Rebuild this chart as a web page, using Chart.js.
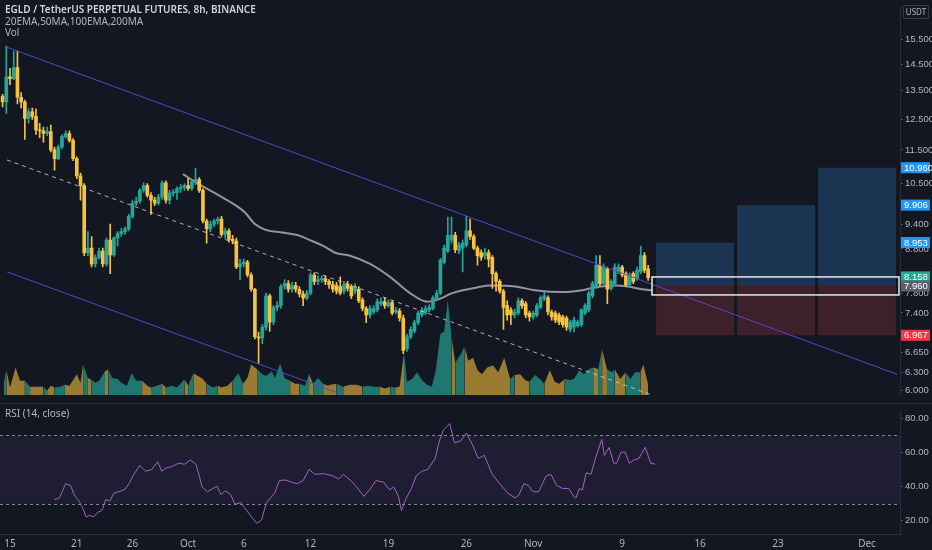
<!DOCTYPE html>
<html><head><meta charset="utf-8">
<script src="https://cdn.jsdelivr.net/npm/chart.js@4.4.0/dist/chart.umd.min.js"></script>
<style>
html,body{margin:0;padding:0;background:#131722;width:932px;height:550px;overflow:hidden;font-family:"Noto Sans",sans-serif;}
#mainBox{position:absolute;left:0;top:0;width:932px;height:403px;}
#rsiBox{position:absolute;left:0;top:403px;width:932px;height:147px;border-top:1px solid #2a2e39;box-sizing:border-box;}
.t{position:absolute;left:5px;font-size:10px;line-height:12px;color:#b2b5be;white-space:nowrap;}
#usdt{position:absolute;left:903px;top:5px;width:24px;height:12px;border:1px solid #363a45;border-radius:2px;font-size:8px;line-height:12px;text-align:center;color:#b2b5be;}
</style></head><body>
<div id="mainBox"><canvas id="main"></canvas></div>
<div id="rsiBox"><canvas id="rsi"></canvas></div>
<div class="t" style="top:3px;color:#d1d4dc;font-weight:600">EGLD / TetherUS PERPETUAL FUTURES, 8h, BINANCE</div>
<div class="t" style="top:15px">20EMA,50MA,100EMA,200MA</div>
<div class="t" style="top:26px">Vol</div>
<div class="t" style="top:407px">RSI (14, close)</div>
<div id="usdt">USDT</div>
<script>
// ---------- time axis (days since 15 Sep) ----------
const candleStartDay = -2/3;   // first 8h candle: 14 Sep 08:00
const candleStepDays = 1/3;    // 8h candles
const xMinDay = -0.9, xMaxDay = 79.96;
const xTickDays   = [0,6,11,16,21,27,34,41,47,55,62,69,77];
const xTickLabels = ["15","21","26","Oct","6","12","19","26","Nov","9","16","23","Dec"];

// ---------- price candles ----------
const candleOpen = [13.29,13.09,14.01,13.94,14.37,13.26,13.09,12.52,12.75,12.59,
12.14,12.11,12.02,12.08,11.50,11.23,11.59,11.92,12.02,11.80,
11.23,10.72,10.44,8.71,8.82,8.45,8.60,8.75,8.45,9.01,
8.66,9.06,9.17,9.22,9.29,9.61,9.96,10.01,10.31,10.44,
10.17,10.04,9.96,10.12,10.52,10.04,10.23,10.25,10.36,10.39,
10.44,10.36,10.55,10.61,10.31,9.49,9.29,9.41,9.49,9.54,
9.15,9.24,9.03,8.99,8.38,8.45,8.49,8.20,7.89,6.94,
6.92,7.12,7.75,7.22,7.51,7.55,7.95,8.01,7.89,7.97,
7.89,7.79,7.71,7.81,8.20,8.06,8.10,8.12,8.06,7.99,
7.97,7.95,7.85,7.99,7.95,7.85,7.89,7.67,7.49,7.36,
7.42,7.46,7.59,7.63,7.55,7.61,7.42,7.44,7.30,6.72,
6.94,7.04,7.21,7.36,7.40,7.46,7.49,7.71,7.81,8.49,
8.75,9.01,9.13,8.75,8.82,8.89,9.24,9.10,8.82,8.71,
8.64,8.71,8.60,8.23,8.06,7.85,7.55,7.46,7.36,7.40,
7.65,7.59,7.40,7.32,7.36,7.51,7.69,7.71,7.42,7.40,
7.36,7.32,7.30,7.08,7.12,7.15,7.17,7.40,7.46,7.75,
7.95,8.42,8.01,8.34,7.91,8.01,8.27,8.38,8.23,7.99,
8.23,8.12,8.27,8.64,8.34];
const candleClose = [13.09,14.01,13.94,14.37,13.26,13.09,12.52,12.75,12.59,12.14,
12.11,12.02,12.08,11.50,11.23,11.59,11.92,12.02,11.80,11.23,
10.72,10.44,8.71,8.82,8.45,8.60,8.75,8.45,9.01,8.66,
9.06,9.17,9.22,9.29,9.61,9.96,10.01,10.31,10.44,10.17,
10.04,9.96,10.12,10.52,10.04,10.23,10.25,10.36,10.39,10.44,
10.36,10.55,10.61,10.31,9.49,9.29,9.41,9.49,9.54,9.15,
9.24,9.03,8.99,8.38,8.45,8.49,8.20,7.89,6.94,6.92,
7.12,7.75,7.22,7.51,7.55,7.95,8.01,7.89,7.97,7.89,
7.79,7.71,7.81,8.20,8.06,8.10,8.12,8.06,7.99,7.89,
7.85,7.81,7.99,7.91,7.75,7.95,7.65,7.49,7.36,7.49,
7.49,7.63,7.63,7.55,7.61,7.40,7.46,7.30,6.69,6.94,
7.08,7.21,7.40,7.46,7.49,7.51,7.71,7.81,8.53,8.82,
9.13,9.13,8.78,8.89,8.94,9.24,9.10,8.82,8.64,8.60,
8.71,8.56,8.23,8.06,7.85,7.51,7.36,7.36,7.42,7.65,
7.55,7.36,7.32,7.40,7.55,7.71,7.75,7.42,7.32,7.26,
7.22,7.17,7.12,7.22,7.26,7.22,7.46,7.55,7.81,8.01,
8.42,8.01,8.38,7.89,8.06,8.38,8.38,8.20,7.99,8.20,
8.06,8.31,8.64,8.31,8.14];
const candleHigh = [13.36,15.22,14.34,15.02,15.02,13.43,13.16,12.85,12.88,12.85,
12.36,12.23,12.23,12.30,11.59,11.65,11.98,12.11,12.11,11.86,
11.29,10.80,10.50,9.22,9.10,8.66,8.82,8.82,9.06,9.41,
9.10,9.22,9.31,9.34,9.66,10.04,10.12,10.36,10.52,10.50,
10.25,10.12,10.20,10.58,10.58,10.31,10.33,10.41,10.47,10.50,
10.64,10.61,10.94,10.67,10.36,9.54,9.49,9.54,9.59,9.61,
9.31,9.29,9.13,9.06,8.56,8.56,8.53,8.25,7.91,7.03,
7.17,7.81,7.79,7.55,7.63,7.99,8.10,8.08,8.04,8.04,
7.95,7.85,7.87,8.25,8.25,8.18,8.18,8.18,8.10,8.06,
8.04,8.16,8.06,8.06,7.99,8.01,7.95,7.71,7.53,7.55,
7.55,7.69,7.71,7.71,7.67,7.65,7.51,7.49,7.36,6.99,
7.13,7.26,7.44,7.51,7.55,7.57,7.75,7.87,8.58,8.89,
9.59,9.59,9.20,8.96,9.01,9.61,9.54,9.15,8.87,8.78,
8.82,8.78,8.64,8.27,8.10,7.89,7.65,7.51,7.48,7.71,
7.69,7.63,7.44,7.44,7.59,7.75,7.83,7.75,7.46,7.44,
7.40,7.36,7.34,7.26,7.32,7.26,7.49,7.59,7.85,8.06,
8.64,8.64,8.45,8.38,8.10,8.45,8.45,8.42,8.27,8.25,
8.27,8.38,8.87,8.71,8.42];
const candleLow = [12.92,12.69,13.72,13.90,13.02,12.88,11.83,12.36,12.49,11.99,
11.89,11.74,11.95,11.44,10.89,11.20,11.53,11.86,11.74,11.17,
10.64,10.04,8.64,8.64,8.38,8.38,8.56,8.38,8.40,8.23,
8.62,8.87,9.10,9.15,9.24,9.56,9.89,9.96,10.25,10.12,
9.66,9.89,9.91,10.06,9.96,9.94,10.15,10.06,10.25,10.31,
10.31,10.31,10.47,10.25,9.44,8.94,9.22,9.34,9.41,9.10,
9.06,8.96,8.92,8.34,8.10,8.38,8.16,7.85,6.90,6.46,
6.81,7.06,7.04,7.17,7.44,7.49,7.89,7.83,7.83,7.83,
7.73,7.55,7.67,7.77,7.99,7.99,8.04,7.99,7.91,7.83,
7.79,7.77,7.79,7.85,7.69,7.79,7.61,7.44,7.21,7.30,
7.38,7.42,7.55,7.49,7.51,7.36,7.38,7.24,6.63,6.67,
6.90,7.01,7.17,7.32,7.36,7.42,7.46,7.67,7.77,8.45,
8.71,8.94,8.71,8.69,8.27,8.85,9.03,8.78,8.42,8.53,
8.56,8.38,7.91,7.85,7.81,7.08,7.26,7.17,7.30,7.36,
7.49,7.30,7.24,7.28,7.32,7.48,7.65,7.36,7.26,7.21,
7.17,7.12,7.06,7.03,7.03,7.12,7.13,7.36,7.42,7.71,
7.91,7.95,7.97,7.59,7.87,7.97,8.23,8.16,7.95,7.95,
8.01,8.08,8.23,8.25,8.08];

// ---------- volume (read at candle positions, 1-based index) ----------
const volIdx = [1.3,2,3,4.5,5.7,7,8.4,9.5,11,12,13,14,15,16.5,17.8,19,21,22,22.7,24,
25,26,27,28.6,29.5,30.5,32,33,34.5,35.8,37,38.6,40,41,42.6,44,45,46.6,48,49,
50,51,52.4,53.7,55,56,57.7,59,60,61.6,63,64.5,65.8,67,68,69.6,71,72,73.6,74.4,
75.8,77,78.5,79.8,81,82.5,83.6,84.7,86,87.4,88.7,
89.3,91,92.8,94.6,96.5,98,99.5,101,102.7,104,105.5,106.8,108,109.2,110,111.4,112.7,114,115.4,116.7,
117.8,119,120,121,122,123,124.4,125.5,126.5,127.8,129,130.2,131.6,133.2,134.6,136.2,137.8,139,140.5,141.8,
143,144.5,145.8,147,148.5,149.8,151,152.5,153.8,155,156.4,157.7,159,160.4,161.5,162.6,163.9,165.2,166,167.5,
168.9,170.2,171.5,172.9,173.7,175];
const volVal = [12,27,8,29,15,15,9,9,9,9,5,10,8,9,11,10,22,13,32,18,
16,13,15,25,27,18,17,13,10,23,15,15,10,8,10,12,8,10,8,12,
17,10,23,20,17,12,8,10,8,10,15,23,12,18,32,27,22,20,25,18,
33,18,15,12,12,10,22,12,18,12,10,
11,12,9,11,11,9,10,9,9,7,9,8,9,44,14,17,24,16,11,9,
27,64,66,99,61,34,42,51,36,39,26,22,29,31,24,39,17,21,22,16,
14,21,17,12,26,14,12,17,16,17,26,22,27,29,27,48,27,24,27,17,
24,17,24,24,32,11];

// ---------- moving average (grey) ----------
const maDays = [15.54,16.89,18.42,19.95,21.11,22.01,22.91,24.44,25.88,27.13,28.30,29.20,30.55,32.35,34.14,35.94,37.47,38.63,39.53,40.70,41.96,43.13,45.37,47.17,49.60,51.39,52.56,54.36,55.53,56.78,57.68];
const maVals = [10.77,10.50,10.23,9.96,9.71,9.41,9.27,9.20,9.13,8.99,8.85,8.71,8.64,8.45,8.16,7.81,7.63,7.69,7.79,7.87,7.93,7.97,7.95,7.87,7.83,7.87,7.93,7.97,7.95,7.89,7.87];

// ---------- channel / trend lines (day, price) ----------
const upperLine = [[-0.27,15.18],[79.7,6.27]];
const lowerLine = [[-0.27,8.27],[30.1,5.92]];
const midLine   = [[-0.27,11.19],[57.5,5.94]];

// ---------- long position tool ----------
const targetPrices = [8.953, 9.906, 10.960];
const targetDays = [[58.04,65.05],[65.32,72.33],[72.60,79.60]];
const entryPrice = 7.960, stopPrice = 6.967;
const entryBoxTop = 8.158, entryBoxBottom = 7.77, entryBoxDays = [57.68,79.87];
const priceTags = [10.960, 9.906, 8.953, 8.158, 7.960, 6.967];
const priceTagColors = ["#2196f3","#2196f3","#2196f3","#22ab94","#5d606b","#f23645"];

// ---------- price axis ----------
const priceTicks = [15.5,14.5,13.5,12.5,11.5,10.5,9.4,8.8,7.8,7.4,6.65,6.3,6.0];
const priceMin = 5.924, priceMax = 16.89;

// ---------- RSI ----------
const rsiIdx = [15,16.3,18,19.3,20.3,21.6,22.7,23.5,24.5,25.5,26.7,27.8,28.8,29.9,31,32.3,34,35.3,36.4,38,
39.6,41.2,42.8,43.9,45.2,46.8,48.4,50,51.6,53.2,54.8,56.2,57.7,58.8,59.9,61,62.5,63.6,65.2,66.8,
68.4,69.5,70.8,72.1,73.2,74.3,75.6,77.2,78.8,80.4,82,83.6,85.2,87.6,90,91.6,92.8,94.9,96.4,98.4,
100,101.6,103.7,105.3,106.4,107.7,108.5,109.6,111.2,112.5,114,115.6,117.6,118.7,119.8,121.5,122.8,124.4,126,127.6,
129.2,130.8,133,135,137.2,139.1,140.2,141.5,142.7,143.9,145.5,147.5,148.8,150.3,151.9,153.6,154.9,155.5,156.5,157.3,
158.3,159.6,160.9,162.5,163.2,164.5,165.7,166.5,167.7,168.8,169.9,171.2,172.5,174.2,175.7,176.9];
const rsiVal = [32.4,33.3,41.7,40.7,35.2,31.5,26.9,22.2,23.1,22.2,25,26,32.4,31.5,36.1,37,38.3,42.6,47.2,52.4,
49,50,54.6,49,51,51.9,53.7,53.1,55.6,52.8,39.8,37,38.9,40.2,35.2,37.6,35.2,29.6,30.6,25.9,
21.3,18.5,20.4,30.6,33.3,36.1,43.5,43.9,42.6,41.7,43.5,50,47.2,47.6,46.3,44.4,47.2,43.5,39.8,34.3,
38.3,43.5,42.6,38,39.8,34.3,25.9,32.4,38.9,46.3,49,50,56.5,66.7,73.1,76.9,65.7,66.7,71.3,64.8,
56.5,58.3,47.2,41.7,36.1,33.3,35.2,41.7,40.7,37,37,46.3,47.2,40.7,38.9,38.9,34.3,33.3,38.9,38,
48.1,47.2,57.4,67.6,58.3,63,53.7,53.7,60.2,60.2,53.7,55.6,56.5,63,53.7,53.1];
const rsiTicks = [20,40,60,80];
const rsiBand = [30,70];
const rsiMin = 12.2, rsiMax = 83.9;

// ---------- colours ----------
const upColor = "#26a69a", downColor = "#f5c242";
const volUpColor = "rgba(34,136,126,0.85)", volDownColor = "rgba(178,142,52,0.85)";
const axisFont = { family:"'Liberation Sans Narrow','Liberation Sans',sans-serif", size:9.5 };

// ---------- helpers ----------
const dayOfCandle = k => candleStartDay + k*candleStepDays;
const dayOfIdx = i => candleStartDay + (i-1)*candleStepDays;
const isUp = candleClose.map((c,k)=>c>=candleOpen[k]);
const volIsUp = volIdx.map(i=>isUp[Math.min(candleClose.length-1, Math.max(0, Math.round(i)-1))]);

Chart.defaults.font.family = "'Noto Sans', sans-serif";
Chart.defaults.font.size = 10;
Chart.defaults.color = "#b2b5be";

const mainPlugin = {
  id:'mainPlugin',
  beforeDatasetsDraw(chart){
    const {ctx, scales:{x,y}} = chart;
    ctx.save();
    targetPrices.forEach((tp,k)=>{
      const x0 = x.getPixelForValue(targetDays[k][0]), x1 = x.getPixelForValue(targetDays[k][1]);
      const yT = y.getPixelForValue(tp), yE = y.getPixelForValue(entryPrice), yS = y.getPixelForValue(stopPrice);
      ctx.fillStyle = "#1b3452"; ctx.fillRect(x0, yT, x1-x0, yE-yT);
      ctx.fillStyle = "#3d2029"; ctx.fillRect(x0, yE, x1-x0, yS-yE);
    });
    ctx.restore();
  },
  afterDatasetsDraw(chart){
    const {ctx, scales:{x,y}} = chart;
    ctx.save();
    const x0 = x.getPixelForValue(entryBoxDays[0]), x1 = x.getPixelForValue(entryBoxDays[1]);
    const y0 = y.getPixelForValue(entryBoxTop), y1 = y.getPixelForValue(entryBoxBottom);
    ctx.strokeStyle = "#e6e8ee"; ctx.lineWidth = 1.5;
    ctx.strokeRect(x0, y0, x1-x0, y1-y0);
    ctx.restore();
  },
  afterDraw(chart){
    const {ctx, scales:{y}} = chart;
    ctx.save();
    ctx.font = "9.5px " + axisFont.family;
    ctx.textBaseline = "middle";
    priceTags.forEach((v,k)=>{
      const py = y.getPixelForValue(v);
      ctx.fillStyle = priceTagColors[k];
      ctx.fillRect(y.left+1, py-5.5, 29, 11);
      ctx.fillStyle = "#ffffff";
      ctx.fillText(v.toFixed(3), y.left+4, py+0.5);
    });
    ctx.restore();
  }
};

const lineDs = (pts, color, dash) => ({
  type:'line', data: pts.map(p=>({x:p[0], y:p[1]})), borderColor: color, borderWidth:1,
  borderDash: dash || [], pointRadius:0, fill:false, tension:0, order:1
});

new Chart(document.getElementById('main'), {
  type:'bar',
  data:{ datasets:[
    { type:'line', yAxisID:'yVol', order:20,
      data: volIdx.map((i,k)=>({x:dayOfIdx(i), y:volVal[k]})),
      fill:'origin', pointRadius:0, borderWidth:0, tension:0,
      backgroundColor: volUpColor,
      segment:{ backgroundColor: c => volIsUp[c.p1DataIndex] ? volUpColor : volDownColor } },
    { type:'line', order:5, data: maDays.map((d,k)=>({x:d, y:maVals[k]})),
      borderColor:"rgba(190,192,200,0.75)", borderWidth:2, pointRadius:0, fill:false,
      cubicInterpolationMode:'monotone' },
    { type:'bar', order:4, grouped:false, barThickness:1,
      data: candleLow.map((l,k)=>({x:dayOfCandle(k), y:[l, candleHigh[k]]})),
      backgroundColor: isUp.map(u=>u?upColor:downColor) },
    { type:'bar', order:3, grouped:false, barThickness:3, minBarLength:1,
      data: candleOpen.map((o,k)=>({x:dayOfCandle(k), y:[o, candleClose[k]]})),
      backgroundColor: isUp.map(u=>u?upColor:downColor) },
    lineDs(upperLine, "#5447c9"),
    lineDs(lowerLine, "#5447c9"),
    lineDs(midLine, "rgba(225,228,235,0.75)", [4,4])
  ]},
  options:{
    responsive:true, maintainAspectRatio:false, animation:false,
    layout:{padding:0},
    plugins:{legend:{display:false}, tooltip:{enabled:false}},
    scales:{
      x:{ type:'linear', min:xMinDay, max:xMaxDay, offset:false, display:false },
      y:{ type:'logarithmic', position:'right', min:priceMin, max:priceMax,
          afterBuildTicks: s => { s.ticks = priceTicks.map(v=>({value:v})); },
          afterFit: s => { s.width = 32; },
          grid:{ drawOnChartArea:false, tickLength:3, color:"#4a4e59" },
          border:{ color:"#2a2e39" },
          ticks:{ padding:2, callback: v => Number(v).toFixed(3), color:"#b2b5be", font:axisFont } },
      yVol:{ type:'linear', min:0, max:403, display:false }
    }
  },
  plugins:[mainPlugin]
});

const rsiPlugin = {
  id:'rsiPlugin',
  beforeDatasetsDraw(chart){
    const {ctx, chartArea:a, scales:{y}} = chart;
    ctx.save();
    const yTop = y.getPixelForValue(rsiBand[1]), yBot = y.getPixelForValue(rsiBand[0]);
    ctx.fillStyle = "rgba(126,87,194,0.1)";
    ctx.fillRect(a.left, yTop, a.right-a.left, yBot-yTop);
    ctx.strokeStyle = "rgba(160,163,172,0.8)"; ctx.lineWidth = 1; ctx.setLineDash([3,3]);
    [yTop,yBot].forEach(py=>{ ctx.beginPath(); ctx.moveTo(a.left, Math.round(py)+0.5); ctx.lineTo(a.right, Math.round(py)+0.5); ctx.stroke(); });
    ctx.restore();
  }
};

new Chart(document.getElementById('rsi'), {
  type:'line',
  data:{ datasets:[
    { data: rsiIdx.map((i,k)=>({x:dayOfIdx(i), y:rsiVal[k]})), borderColor:"#a462c6",
      borderWidth:1, pointRadius:0, fill:false, tension:0 }
  ]},
  options:{
    responsive:true, maintainAspectRatio:false, animation:false,
    layout:{padding:0},
    plugins:{legend:{display:false}, tooltip:{enabled:false}},
    scales:{
      x:{ type:'linear', min:xMinDay, max:xMaxDay, offset:false,
          afterBuildTicks: s => { s.ticks = xTickDays.map(v=>({value:v})); },
          afterFit: s => { s.height = 16; },
          grid:{ drawOnChartArea:false, drawTicks:false },
          border:{ color:"#2a2e39" },
          ticks:{ autoSkip:false, maxRotation:0, padding:4, color:"#b2b5be", font:{size:10},
                  callback: (v,i) => xTickLabels[i] } },
      y:{ type:'linear', position:'right', min:rsiMin, max:rsiMax,
          afterBuildTicks: s => { s.ticks = rsiTicks.map(v=>({value:v})); },
          afterFit: s => { s.width = 32; },
          grid:{ drawOnChartArea:false, tickLength:3, color:"#4a4e59" },
          border:{ color:"#2a2e39" },
          ticks:{ padding:2, callback: v => Number(v).toFixed(2), color:"#b2b5be", font:axisFont } }
    }
  },
  plugins:[rsiPlugin]
});
</script>
</body></html>
